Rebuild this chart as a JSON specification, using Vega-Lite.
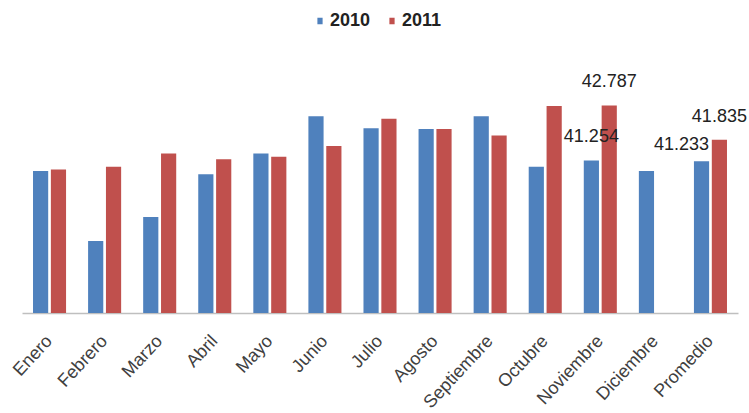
{
  "$schema": "https://vega.github.io/schema/vega-lite/v6.json",
  "autosize": {"type": "none"},
  "padding": {"left": 22, "top": 62, "right": 11, "bottom": 100},
  "width": 716,
  "height": 251,
  "background": "white",
  "config": {"view": {"stroke": null}},
  "data": {
    "values": [
      {"month": "Enero", "year": "2010", "value": 40.96, "label": null},
      {"month": "Enero", "year": "2011", "value": 41.0, "label": null},
      {"month": "Febrero", "year": "2010", "value": 39.01, "label": null},
      {"month": "Febrero", "year": "2011", "value": 41.08, "label": null},
      {"month": "Marzo", "year": "2010", "value": 39.68, "label": null},
      {"month": "Marzo", "year": "2011", "value": 41.45, "label": null},
      {"month": "Abril", "year": "2010", "value": 40.87, "label": null},
      {"month": "Abril", "year": "2011", "value": 41.29, "label": null},
      {"month": "Mayo", "year": "2010", "value": 41.45, "label": null},
      {"month": "Mayo", "year": "2011", "value": 41.36, "label": null},
      {"month": "Junio", "year": "2010", "value": 42.49, "label": null},
      {"month": "Junio", "year": "2011", "value": 41.66, "label": null},
      {"month": "Julio", "year": "2010", "value": 42.15, "label": null},
      {"month": "Julio", "year": "2011", "value": 42.42, "label": null},
      {"month": "Agosto", "year": "2010", "value": 42.13, "label": null},
      {"month": "Agosto", "year": "2011", "value": 42.13, "label": null},
      {"month": "Septiembre", "year": "2010", "value": 42.49, "label": null},
      {"month": "Septiembre", "year": "2011", "value": 41.95, "label": null},
      {"month": "Octubre", "year": "2010", "value": 41.08, "label": null},
      {"month": "Octubre", "year": "2011", "value": 42.77, "label": null},
      {"month": "Noviembre", "year": "2010", "value": 41.254, "label": "41.254"},
      {"month": "Noviembre", "year": "2011", "value": 42.787, "label": "42.787"},
      {"month": "Diciembre", "year": "2010", "value": 40.96, "label": null},
      {"month": "Promedio", "year": "2010", "value": 41.233, "label": "41.233"},
      {"month": "Promedio", "year": "2011", "value": 41.835, "label": "41.835"}
    ]
  },
  "encoding": {
    "x": {
      "field": "month",
      "type": "nominal",
      "sort": ["Enero", "Febrero", "Marzo", "Abril", "Mayo", "Junio", "Julio", "Agosto", "Septiembre", "Octubre", "Noviembre", "Diciembre", "Promedio"],
      "scale": {"paddingInner": 0.4, "paddingOuter": 0.2},
      "axis": {
        "title": null,
        "labelAngle": -47,
        "labelFont": "Liberation Sans",
        "labelFontSize": 18,
        "labelColor": "#404040",
        "labelPadding": 25,
        "ticks": false,
        "domainColor": "#BFBFBF",
        "domainWidth": 1.5,
        "grid": false
      }
    },
    "xOffset": {"field": "year", "type": "nominal", "scale": {"paddingInner": 0.15}},
    "y": {
      "field": "value",
      "type": "quantitative",
      "scale": {"domain": [37, 44], "zero": false, "nice": false},
      "axis": null
    }
  },
  "layer": [
    {
      "mark": {"type": "bar"},
      "encoding": {
        "y2": {"datum": 37},
        "color": {
          "field": "year",
          "type": "nominal",
          "scale": {"domain": ["2010", "2011"], "range": ["#4F81BD", "#C0504D"]},
          "legend": {
            "title": null,
            "orient": "none",
            "direction": "horizontal",
            "legendX": 289,
            "legendY": -50,
            "symbolType": "M-0.4,-0.5H0.4V0.5H-0.4Z",
            "symbolSize": 170,
            "symbolStrokeWidth": 0,
            "labelFont": "Liberation Sans",
            "labelFontSize": 18,
            "labelFontWeight": "bold",
            "labelColor": "#222222",
            "labelOffset": 1,
            "columnPadding": 12
          }
        }
      }
    },
    {
      "transform": [{"filter": "datum.label != null && datum.label != '41.233'"}],
      "mark": {"type": "text", "baseline": "bottom", "dy": -14, "font": "Liberation Sans", "fontSize": 18, "color": "#222222"},
      "encoding": {"text": {"field": "label"}}
    },
    {
      "transform": [{"filter": "datum.label == '41.233'"}],
      "mark": {"type": "text", "baseline": "bottom", "dy": -7, "dx": -20, "font": "Liberation Sans", "fontSize": 18, "color": "#222222"},
      "encoding": {"text": {"field": "label"}}
    }
  ]
}
